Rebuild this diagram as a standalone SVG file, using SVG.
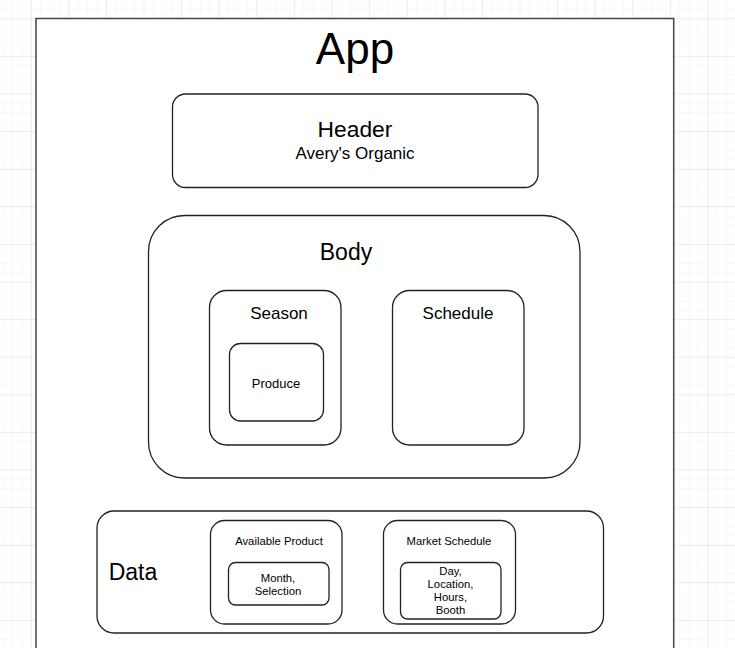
<svg xmlns="http://www.w3.org/2000/svg" width="735" height="648" viewBox="0 0 735 648">
<defs>
<pattern id="minor" x="30.7" y="18.3" width="9.4" height="9.4" patternUnits="userSpaceOnUse">
<path d="M0 0H9.4M0 0V9.4" fill="none" stroke="#f0f0f0" stroke-width="1"/>
</pattern>
<pattern id="major" x="30.7" y="18.3" width="37.6" height="37.6" patternUnits="userSpaceOnUse">
<path d="M0 0H37.6M0 0V37.6" fill="none" stroke="#e2e2e2" stroke-width="1"/>
</pattern>
<style>
.box{fill:#ffffff;stroke:#222222;stroke-width:1.3}
.outer{fill:#ffffff;stroke:#444444;stroke-width:1.5}
text{font-family:"Liberation Sans",Arial,sans-serif;fill:#000000;text-anchor:middle}
</style>
</defs>
<rect width="735" height="648" fill="#ffffff"/>
<rect width="735" height="648" fill="url(#minor)"/>
<rect width="735" height="648" fill="url(#major)"/>
<g id="app">
<rect class="outer" x="36" y="18.5" width="637.7" height="640"/>
<text x="355" y="64" font-size="44">App</text>
</g>
<g id="header">
<rect class="box" x="172.5" y="94" width="365.5" height="93.5" rx="13"/>
<text x="355" y="137.3" font-size="22.8">Header</text>
<text x="355" y="158.5" font-size="17">Avery's Organic</text>
</g>
<g id="body">
<rect class="box" x="148.5" y="215.5" width="431.5" height="262.5" rx="36"/>
<text x="346" y="260" font-size="23">Body</text>
</g>
<g id="season">
<rect class="box" x="209.5" y="290.5" width="131.5" height="154.5" rx="17"/>
<text x="279" y="319" font-size="17">Season</text>
</g>
<g id="produce">
<rect class="box" x="229.5" y="343.5" width="94" height="77.5" rx="11"/>
<text x="276" y="388" font-size="13">Produce</text>
</g>
<g id="schedule">
<rect class="box" x="392.5" y="290.5" width="131.5" height="154.5" rx="17"/>
<text x="458" y="319" font-size="17">Schedule</text>
</g>
<g id="data">
<rect class="box" x="97" y="511" width="506.5" height="122" rx="17"/>
<text x="133" y="580" font-size="23">Data</text>
</g>
<g id="available-product">
<rect class="box" x="210.5" y="520.5" width="131.5" height="103.5" rx="14"/>
<text x="279" y="545" font-size="11.3">Available Product</text>
</g>
<g id="month-selection">
<rect class="box" x="228.5" y="562.5" width="100.5" height="42.5" rx="7"/>
<text x="278" y="582" font-size="11.3">Month,</text>
<text x="278" y="595" font-size="11.3">Selection</text>
</g>
<g id="market-schedule">
<rect class="box" x="383.5" y="520.5" width="132" height="103.5" rx="14"/>
<text x="449" y="545" font-size="11.3">Market Schedule</text>
</g>
<g id="day-location">
<rect class="box" x="400.5" y="562.5" width="100.5" height="56.5" rx="7"/>
<text x="450.5" y="575" font-size="11.3">Day,</text>
<text x="450.5" y="588" font-size="11.3">Location,</text>
<text x="450.5" y="601" font-size="11.3">Hours,</text>
<text x="450.5" y="614" font-size="11.3">Booth</text>
</g>
<g id="connectors"></g>
</svg>
